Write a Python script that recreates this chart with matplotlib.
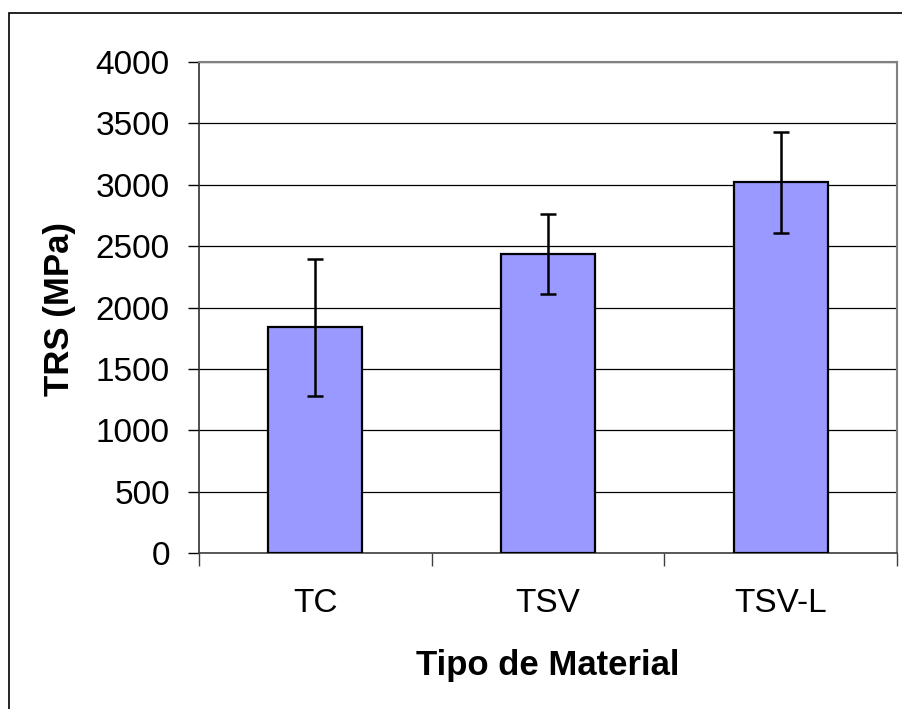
import matplotlib
matplotlib.use("Agg")
import matplotlib.pyplot as plt
from matplotlib.patches import Rectangle

categories = ["TC", "TSV", "TSV-L"]
trs_mean = [1840, 2436, 3020]
trs_err = [557, 323, 413]
y_ticks = [0, 500, 1000, 1500, 2000, 2500, 3000, 3500, 4000]

plt.rcParams["font.family"] = ["Liberation Sans", "DejaVu Sans"]

W, H = 902, 709
fig = plt.figure(figsize=(W / 100, H / 100), dpi=100)
ax = fig.add_axes([199 / W, 1 - 553 / H, (897 - 199) / W, (553 - 62) / H])

# outer chart border (clipped on right/bottom like the original)
fig.patches.append(Rectangle((9 / W, -0.1), 1.2, 1 - 13 / H + 0.1,
                             transform=fig.transFigure, fill=False,
                             edgecolor="black", linewidth=1.2))

x = range(len(categories))
ax.bar(x, trs_mean, width=0.405, color="#9999FF", edgecolor="black",
       linewidth=1.6, zorder=3)
ax.errorbar(x, trs_mean, yerr=trs_err, fmt="none", ecolor="black",
            elinewidth=1.8, capsize=5.5, capthick=1.8, zorder=4)

ax.set_xlim(-0.5, len(categories) - 0.5)
ax.set_ylim(0, 4000)
ax.set_yticks(y_ticks)
ax.yaxis.grid(True, color="black", linewidth=0.9)
ax.set_axisbelow(True)

ax.set_xticks(list(x))
ax.set_xticklabels(categories)
ax.set_xticks([-0.5, 0.5, 1.5, 2.5], minor=True)
ax.tick_params(axis="x", which="major", length=0, pad=25, labelsize=24)
ax.tick_params(axis="x", which="minor", length=9, width=1, color="#404040",
               direction="out")
ax.tick_params(axis="y", length=8, width=1, direction="out", pad=13,
               labelsize=24)

for s in ["top", "right"]:
    ax.spines[s].set_color("#808080")
    ax.spines[s].set_linewidth(1.5)
ax.spines["left"].set_color("#303030")
ax.spines["bottom"].set_color("#404040")
ax.spines["left"].set_linewidth(1.2)
ax.spines["bottom"].set_linewidth(1.2)

fig.text(548 / W, 1 - 666 / H, "Tipo de Material", ha="center", va="center",
         fontsize=25, fontweight="bold")
fig.text(60 / W, 1 - 309 / H, "TRS (MPa)", ha="center", va="center",
         rotation=90, fontsize=25, fontweight="bold")

fig.savefig("out.png", dpi=100)
